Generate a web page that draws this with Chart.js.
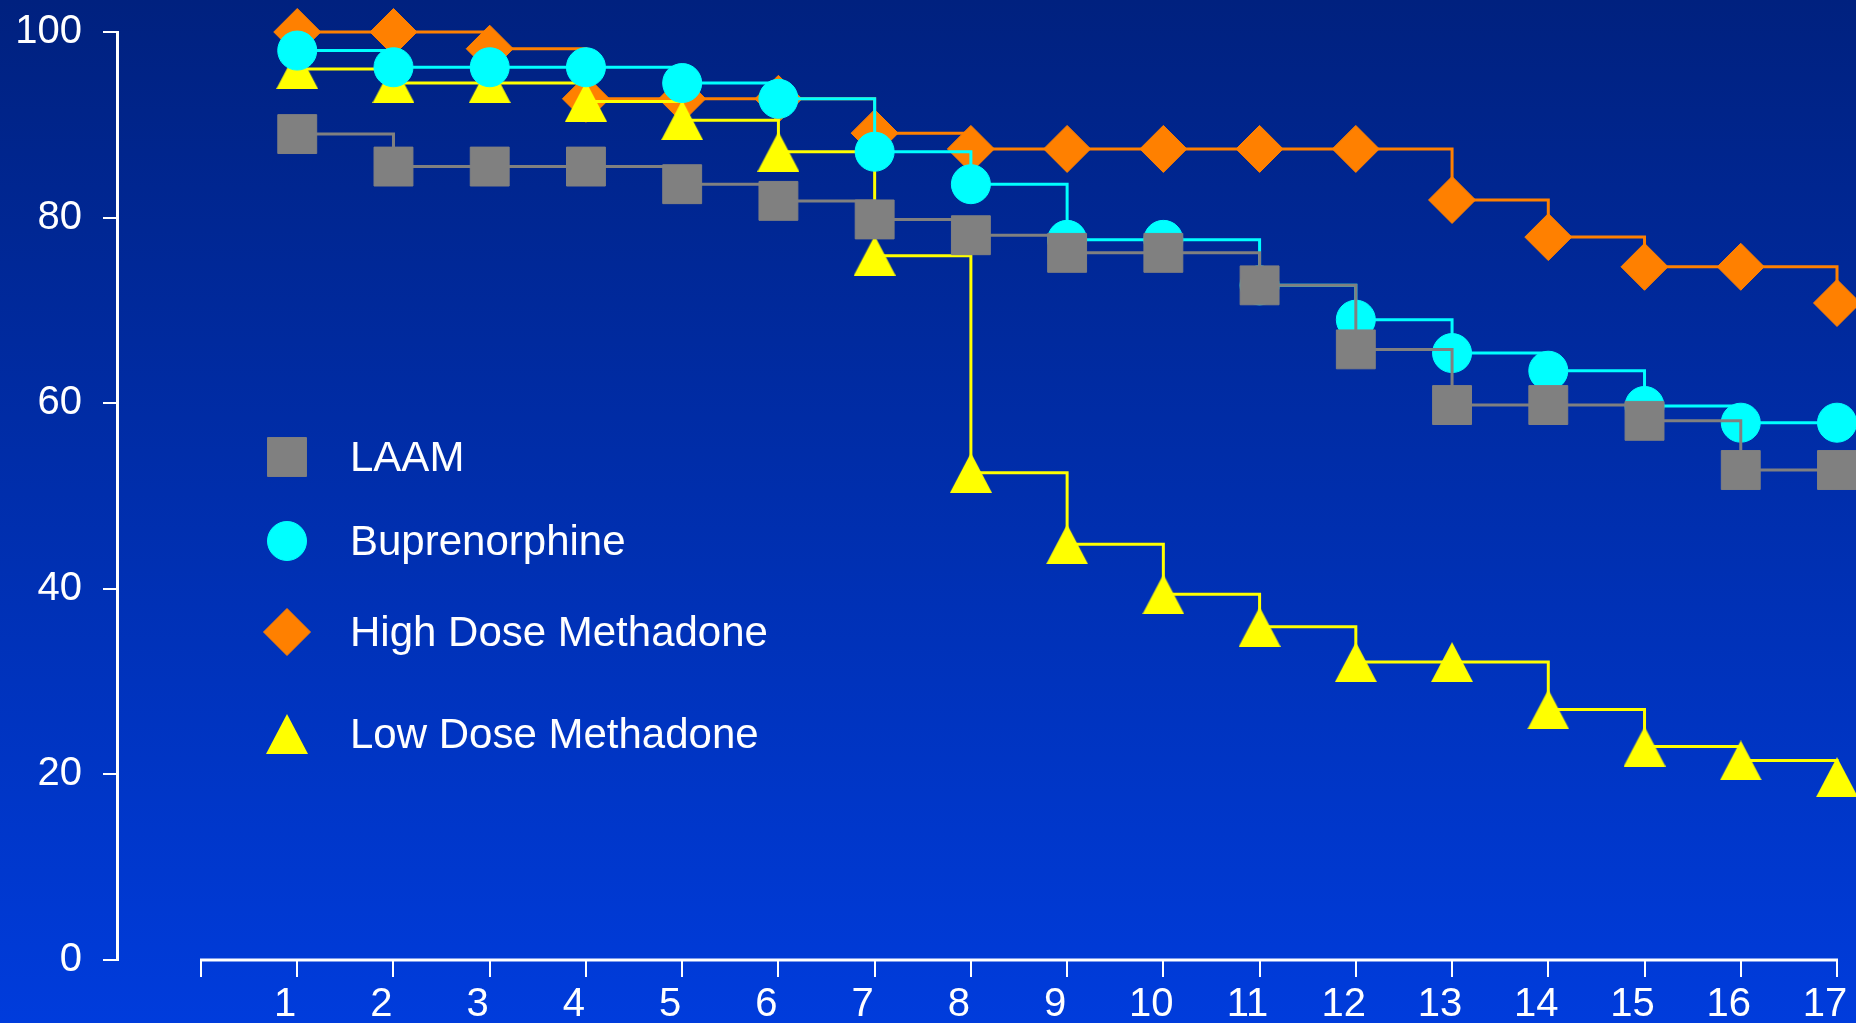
<!DOCTYPE html>
<html>
<head>
<meta charset="utf-8">
<script src="https://cdn.jsdelivr.net/npm/chart.js@4/dist/chart.umd.min.js"></script>
<style>
  html, body { margin: 0; padding: 0; background: #002a9e; overflow: hidden; }
  #wrap { width: 1856px; height: 1023px; position: relative; }
  canvas { display: block; }
</style>
</head>
<body>
<div id="wrap"><canvas id="retentionChart"></canvas></div>
<script>
// ─── Data (percent retained, by time point) ───
const weeks = [1, 2, 3, 4, 5, 6, 7, 8, 9, 10, 11, 12, 13, 14, 15, 16, 17];
const laam = [89, 85.5, 85.5, 85.5, 83.6, 81.8, 79.8, 78.1, 76.2, 76.2, 72.7, 65.8, 59.8, 59.8, 58.1, 52.8, 52.8];
const buprenorphine = [98, 96.2, 96.2, 96.2, 94.5, 92.8, 87.1, 83.6, 77.6, 77.6, 72.7, 69, 65.4, 63.5, 59.7, 57.9, 57.9];
const highDose = [100, 100, 98.2, 92.8, 92.8, 92.8, 89.1, 87.4, 87.4, 87.4, 87.4, 87.4, 81.9, 77.9, 74.7, 74.7, 70.8];
const lowDose = [96, 94.5, 94.5, 92.5, 90.5, 87.1, 75.9, 52.5, 44.8, 39.4, 35.9, 32.1, 32.1, 27, 23, 21.5, 19.7];
const yTicks = [0, 20, 40, 60, 80, 100];

const FONT = '"Liberation Sans", Arial, sans-serif';
Chart.defaults.font.family = FONT;

const toPoints = (vals) => weeks.map((w, i) => ({ x: w, y: vals[i] }));

// triangle centred on its point (built-in one sits a little high)
const makeTriangle = (w, h, color) => {
    const c = document.createElement('canvas');
    c.width = w;
    c.height = h;
    const g = c.getContext('2d');
    g.fillStyle = color;
    g.beginPath();
    g.moveTo(w / 2, 0);
    g.lineTo(w, h);
    g.lineTo(0, h);
    g.closePath();
    g.fill();
    return c;
};
const triangleImg = makeTriangle(42, 40, '#ffff00');

// ─── Plugins: background, x axis line, legend ───
const backdrop = {
    id: 'backdrop',
    beforeDraw(chart) {
        const { ctx, width, height } = chart;
        const g = ctx.createLinearGradient(0, 0, 0, height);
        g.addColorStop(0, '#00217f');
        g.addColorStop(1, '#003cdc');
        ctx.save();
        ctx.fillStyle = g;
        ctx.fillRect(0, 0, width, height);
        ctx.restore();
    }
};

const xAxisLine = {
    id: 'xAxisLine',
    beforeDatasetsDraw(chart) {
        const { ctx, chartArea, scales } = chart;
        const x0 = scales.x.getPixelForValue(0);
        const x1 = scales.x.getPixelForValue(weeks[weeks.length - 1]);
        ctx.save();
        ctx.strokeStyle = '#fff';
        ctx.lineWidth = 3;
        ctx.beginPath();
        ctx.moveTo(x0 - 1, chartArea.bottom);
        ctx.lineTo(x1 + 1, chartArea.bottom);
        ctx.stroke();
        ctx.restore();
    }
};

const legendRows = [459, 543, 634, 736];
const seriesLegend = {
    id: 'seriesLegend',
    afterDraw(chart) {
        const { ctx } = chart;
        ctx.save();
        ctx.font = '42px ' + FONT;
        ctx.textBaseline = 'middle';
        ctx.textAlign = 'left';
        chart.data.datasets.forEach((ds, i) => {
            const y = legendRows[i];
            ctx.fillStyle = ds.pointBackgroundColor;
            ctx.strokeStyle = ds.pointBorderColor;
            ctx.lineWidth = 1;
            Chart.helpers.drawPoint(ctx, {
                pointStyle: ds.pointStyle,
                radius: ds.pointRadius,
                rotation: 0,
                borderWidth: 1
            }, 287, y - 2);
            ctx.fillStyle = '#fff';
            ctx.fillText(ds.label, 350, y);
        });
        ctx.restore();
    }
};

// survival-style steps: hold the level, drop at the next point
const series = (label, vals, color, style, radius, order) => ({
    label: label,
    data: toPoints(vals),
    borderColor: color,
    borderWidth: 3,
    stepped: 'before',
    pointStyle: style,
    pointRadius: radius,
    pointBackgroundColor: color,
    pointBorderColor: color,
    pointBorderWidth: 1,
    clip: false,
    order: order
});

new Chart(document.getElementById('retentionChart'), {
    type: 'line',
    data: {
        datasets: [
            series('LAAM', laam, '#808080', 'rect', 27.5, 0),
            series('Buprenorphine', buprenorphine, '#00ffff', 'circle', 19.5, 1),
            series('High Dose Methadone', highDose, '#ff8000', 'rectRot', 23.5, 3),
            series('Low Dose Methadone', lowDose, '#ffff00', triangleImg, 21, 2)
        ]
    },
    options: {
        responsive: true,
        maintainAspectRatio: false,
        animation: false,
        events: [],
        layout: {
            autoPadding: false,
            padding: { top: 32, right: 19, bottom: 0, left: 0 }
        },
        plugins: {
            legend: { display: false },
            tooltip: { enabled: false }
        },
        scales: {
            x: {
                type: 'linear',
                min: -0.873,
                max: 17,
                border: { display: false },
                grid: {
                    drawOnChartArea: false,
                    color: '#fff',
                    lineWidth: 2,
                    tickLength: 17
                },
                ticks: {
                    stepSize: 1,
                    includeBounds: false,
                    autoSkip: false,
                    maxRotation: 0,
                    color: '#fff',
                    font: { size: 40 },
                    padding: 4,
                    labelOffset: -12,
                    callback: (v) => (v === 0 ? '' : v)
                },
                afterFit: (s) => {
                    s.height = 63;
                    s.paddingLeft = 0;
                    s.paddingRight = 0;
                }
            },
            y: {
                min: yTicks[0],
                max: yTicks[yTicks.length - 1],
                border: { color: '#fff', width: 3 },
                grid: {
                    drawOnChartArea: false,
                    color: '#fff',
                    lineWidth: 2,
                    tickLength: 14
                },
                afterBuildTicks: (s) => {
                    s.ticks = yTicks.map((v) => ({ value: v }));
                },
                ticks: {
                    color: '#fff',
                    font: { size: 40 },
                    padding: 21
                },
                afterFit: (s) => {
                    s.width = 117;
                    s.paddingTop = 0;
                    s.paddingBottom = 0;
                }
            }
        }
    },
    plugins: [backdrop, xAxisLine, seriesLegend]
});
</script>
</body>
</html>
